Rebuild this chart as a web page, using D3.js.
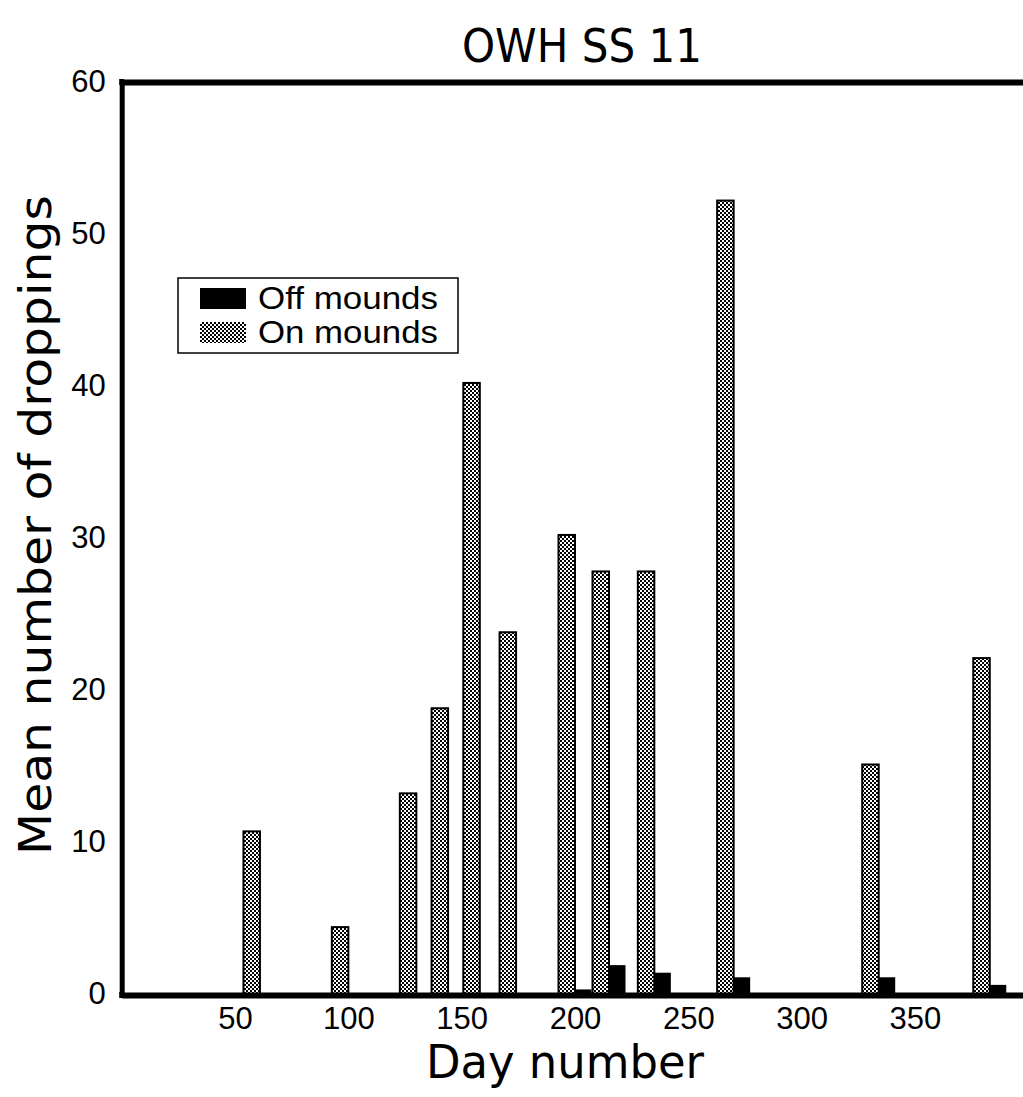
<!DOCTYPE html>
<html>
<head>
<meta charset="utf-8">
<script src="https://cdn.jsdelivr.net/npm/d3@7"></script>
<style>
  html, body { margin: 0; padding: 0; background: #fff; }
  svg { display: block; }
  text { font-family: "DejaVu Sans", "Liberation Sans", sans-serif; fill: #000; }
  .tick text, .legend text { font-family: "Liberation Sans", "DejaVu Sans", sans-serif; }
</style>
</head>
<body>
<svg id="chart" width="1023" height="1097"></svg>
<script>
// Sampling days and mean dropping counts per plot
const days = [61, 100, 130, 144, 158, 174, 200, 215, 235, 270, 334, 383];
const onMounds = [10.7, 4.4, 13.2, 18.8, 40.2, 23.8, 30.2, 27.8, 27.8, 52.2, 15.1, 22.1];
const offMounds = [0, 0, 0, 0, 0, 0, 0.3, 1.9, 1.4, 1.1, 1.1, 0.6];
const xTickValues = [50, 100, 150, 200, 250, 300, 350];
const yTickValues = [0, 10, 20, 30, 40, 50, 60];
const seriesNames = ["Off mounds", "On mounds"];

(function draw() {
  const svg = d3.select("#chart");
  const plotLeft = 121.7, plotRight = 1028.3, plotTop = 82, plotBottom = 994;
  const barW = 16.5;

  const x = d3.scaleLinear().domain([0, 400]).range([plotLeft, plotRight]);
  const y = d3.scaleLinear().domain([0, 60]).range([plotBottom, plotTop]);

  // checker fill for the "on mounds" bars
  const defs = svg.append("defs");
  const pat = defs.append("pattern")
    .attr("id", "checker")
    .attr("patternUnits", "userSpaceOnUse")
    .attr("width", 4).attr("height", 4);
  pat.append("rect").attr("width", 4).attr("height", 4).attr("fill", "#fff");
  pat.append("rect").attr("x", 0).attr("y", 0).attr("width", 2).attr("height", 2).attr("fill", "#000");
  pat.append("rect").attr("x", 2).attr("y", 2).attr("width", 2).attr("height", 2).attr("fill", "#000");

  const rows = days.map((d, i) => ({ day: d, on: onMounds[i], off: offMounds[i] }));

  // on-mound bars sit left of the day, off-mound bars right of it
  svg.append("g").selectAll("rect.on")
    .data(rows).join("rect")
    .attr("class", "on")
    .attr("x", d => x(d.day) - barW)
    .attr("y", d => y(d.on))
    .attr("width", barW)
    .attr("height", d => y(0) - y(d.on))
    .attr("fill", "url(#checker)")
    .attr("stroke", "#000")
    .attr("stroke-width", 2);

  svg.append("g").selectAll("rect.off")
    .data(rows.filter(d => d.off > 0)).join("rect")
    .attr("class", "off")
    .attr("x", d => x(d.day))
    .attr("y", d => y(d.off))
    .attr("width", barW)
    .attr("height", d => y(0) - y(d.off))
    .attr("fill", "#000");

  // frame: left, top and bottom rules
  const yAxis = svg.append("g")
    .attr("transform", `translate(${plotLeft},0)`)
    .call(d3.axisLeft(y).tickValues(yTickValues).tickSize(0).tickPadding(16).tickSizeOuter(0));
  yAxis.select(".domain").attr("stroke", "#000").attr("stroke-width", 5);
  yAxis.selectAll("text").style("font-size", "31px").attr("font-family", null);

  const xAxis = svg.append("g")
    .attr("transform", `translate(0,${plotBottom + 1})`)
    .call(d3.axisBottom(x).tickValues(xTickValues).tickSize(0).tickPadding(12).tickSizeOuter(0));
  xAxis.select(".domain").attr("stroke", "#000").attr("stroke-width", 6);
  xAxis.selectAll("text").style("font-size", "31px").attr("font-family", null);

  const topAxis = svg.append("g")
    .attr("transform", `translate(0,${plotTop})`)
    .call(d3.axisTop(x).tickValues([]).tickSizeOuter(0));
  topAxis.select(".domain").attr("stroke", "#000").attr("stroke-width", 6);

  // corner joins
  svg.append("rect").attr("x", plotLeft - 2.5).attr("y", plotTop - 3).attr("width", 5).attr("height", 6).attr("fill", "#000");
  svg.append("rect").attr("x", plotLeft - 2.5).attr("y", plotBottom - 2).attr("width", 5).attr("height", 6).attr("fill", "#000");

  // titles
  svg.append("text")
    .attr("x", 582).attr("y", 62)
    .attr("text-anchor", "middle")
    .style("font-size", "46px")
    .attr("textLength", 240).attr("lengthAdjust", "spacingAndGlyphs")
    .text("OWH SS 11");

  svg.append("text")
    .attr("x", 565).attr("y", 1078)
    .attr("text-anchor", "middle")
    .style("font-size", "46px")
    .attr("textLength", 278).attr("lengthAdjust", "spacingAndGlyphs")
    .text("Day number");

  svg.append("text")
    .attr("transform", `translate(51,525) rotate(-90)`)
    .attr("text-anchor", "middle")
    .style("font-size", "45px")
    .attr("textLength", 660).attr("lengthAdjust", "spacingAndGlyphs")
    .text("Mean number of droppings");

  // legend
  const lg = svg.append("g").attr("class", "legend");
  lg.append("rect")
    .attr("x", 178).attr("y", 278).attr("width", 280).attr("height", 75)
    .attr("fill", "#fff").attr("stroke", "#000").attr("stroke-width", 1.5);
  const fills = ["#000", "url(#checker)"];
  const swY = [288, 322];
  seriesNames.forEach((name, i) => {
    lg.append("rect")
      .attr("x", 200).attr("y", swY[i]).attr("width", 46).attr("height", 21)
      .attr("fill", fills[i]);
    lg.append("text")
      .attr("x", 258).attr("y", swY[i] + 21)
      .style("font-size", "31px")
      .attr("textLength", 180).attr("lengthAdjust", "spacingAndGlyphs")
      .text(name);
  });
})();
</script>
</body>
</html>
